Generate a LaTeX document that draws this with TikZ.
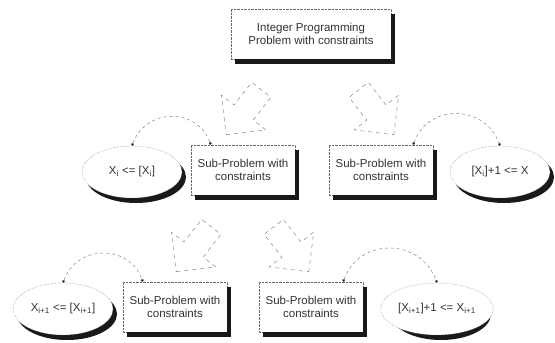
\documentclass[tikz,border=0pt]{standalone}
\usepackage{fontspec}
\setmainfont{Liberation Sans}
\usetikzlibrary{shapes.arrows,shapes.geometric,arrows.meta}

\begin{document}
\begin{tikzpicture}[x=1pt,y=-1pt,
		every node/.style={font=\fontsize{11.5}{13.5}\selectfont,text=black!80},
		probbox/.style={draw=black!60,densely dotted,fill=white,align=center,
			minimum width=104pt,minimum height=50pt,inner sep=2pt},
		cutell/.style={ellipse,draw=black!60,densely dotted,fill=white,
			minimum width=100pt,minimum height=52pt,inner sep=1pt},
		ellshadow/.style={ellipse,fill=black!90,inner sep=0pt,minimum width=100pt,minimum height=52pt},
		boxshadow/.style={draw=black!90,line cap=butt},
		bigarrow/.style={single arrow,draw=black!55,dash pattern=on 4pt off 4pt,
			minimum height=57pt,inner xsep=0pt,inner ysep=12pt,
			single arrow head extend=16pt,single arrow head indent=0pt},
		bound/.style={draw=black!55,dash pattern=on 3pt off 3pt,
			{Circle[length=3pt,fill=black]}-{Circle[length=3pt,fill=black]}}]
		\useasboundingbox (0,0) rectangle (555,343);
		\foreach \x/\y/\n in {136/177/cutl,504/177/cutr,67/314/cutll,441/314/cutlr}
			\node[ellshadow] (\n-sh) at (\x,\y) {};
		\node[probbox,minimum width=160pt] (ip) at (311,34) {Integer Programming\\Problem with constraints};
		\node[bigarrow,rotate=232] (al) at (247.5,107.5) {};
		\node[bigarrow,rotate=308] (ar) at (372.5,107.5) {};
		\node[probbox] (subl) at (243,170) {Sub-Problem with\\constraints};
		\node[probbox] (subr) at (381,170) {Sub-Problem with\\constraints};
		\node[cutell] (cutl) at (132,172) {X\textsubscript{i} <= [X\textsubscript{i}]};
		\node[cutell] (cutr) at (500,172) {[X\textsubscript{i}]+1 <= X};
		\node[bigarrow,rotate=232] (all) at (197.5,244.5) {};
		\node[bigarrow,rotate=308] (alr) at (287.5,244.5) {};
		\node[probbox] (subll) at (175,307) {Sub-Problem with\\constraints};
		\node[probbox] (sublr) at (311,307) {Sub-Problem with\\constraints};
		\node[cutell] (cutll) at (63,309) {X\textsubscript{i+1} <= [X\textsubscript{i+1}]};
		\node[cutell] (cutlr) at (437,309) {[X\textsubscript{i+1}]+1 <= X\textsubscript{i+1}};
		\foreach \bx in {ip,subl,subr,subll,sublr}{
			\draw[boxshadow,line width=4pt] ([xshift=2pt,yshift=-5pt]\bx.north east) -- ([xshift=2pt,yshift=-5pt]\bx.south east);
			\draw[boxshadow,line width=5pt] ([xshift=4pt,yshift=-2.5pt]\bx.south west) -- ([xshift=4pt,yshift=-2.5pt]\bx.south east);
		}
		\draw[bound] (cutl.north) to[out=70,in=110,looseness=1.3] ([xshift=20pt]subl.north west);
		\draw[bound] ([xshift=-20pt]subr.north east) to[out=70,in=110,looseness=1.3] (cutr.north);
		\draw[bound] (cutll.north) to[out=70,in=110,looseness=1.3] ([xshift=20pt]subll.north west);
		\draw[bound] ([xshift=-20pt]sublr.north east) to[out=70,in=110,looseness=1.3] (cutlr.north);
\end{tikzpicture}
\end{document}
